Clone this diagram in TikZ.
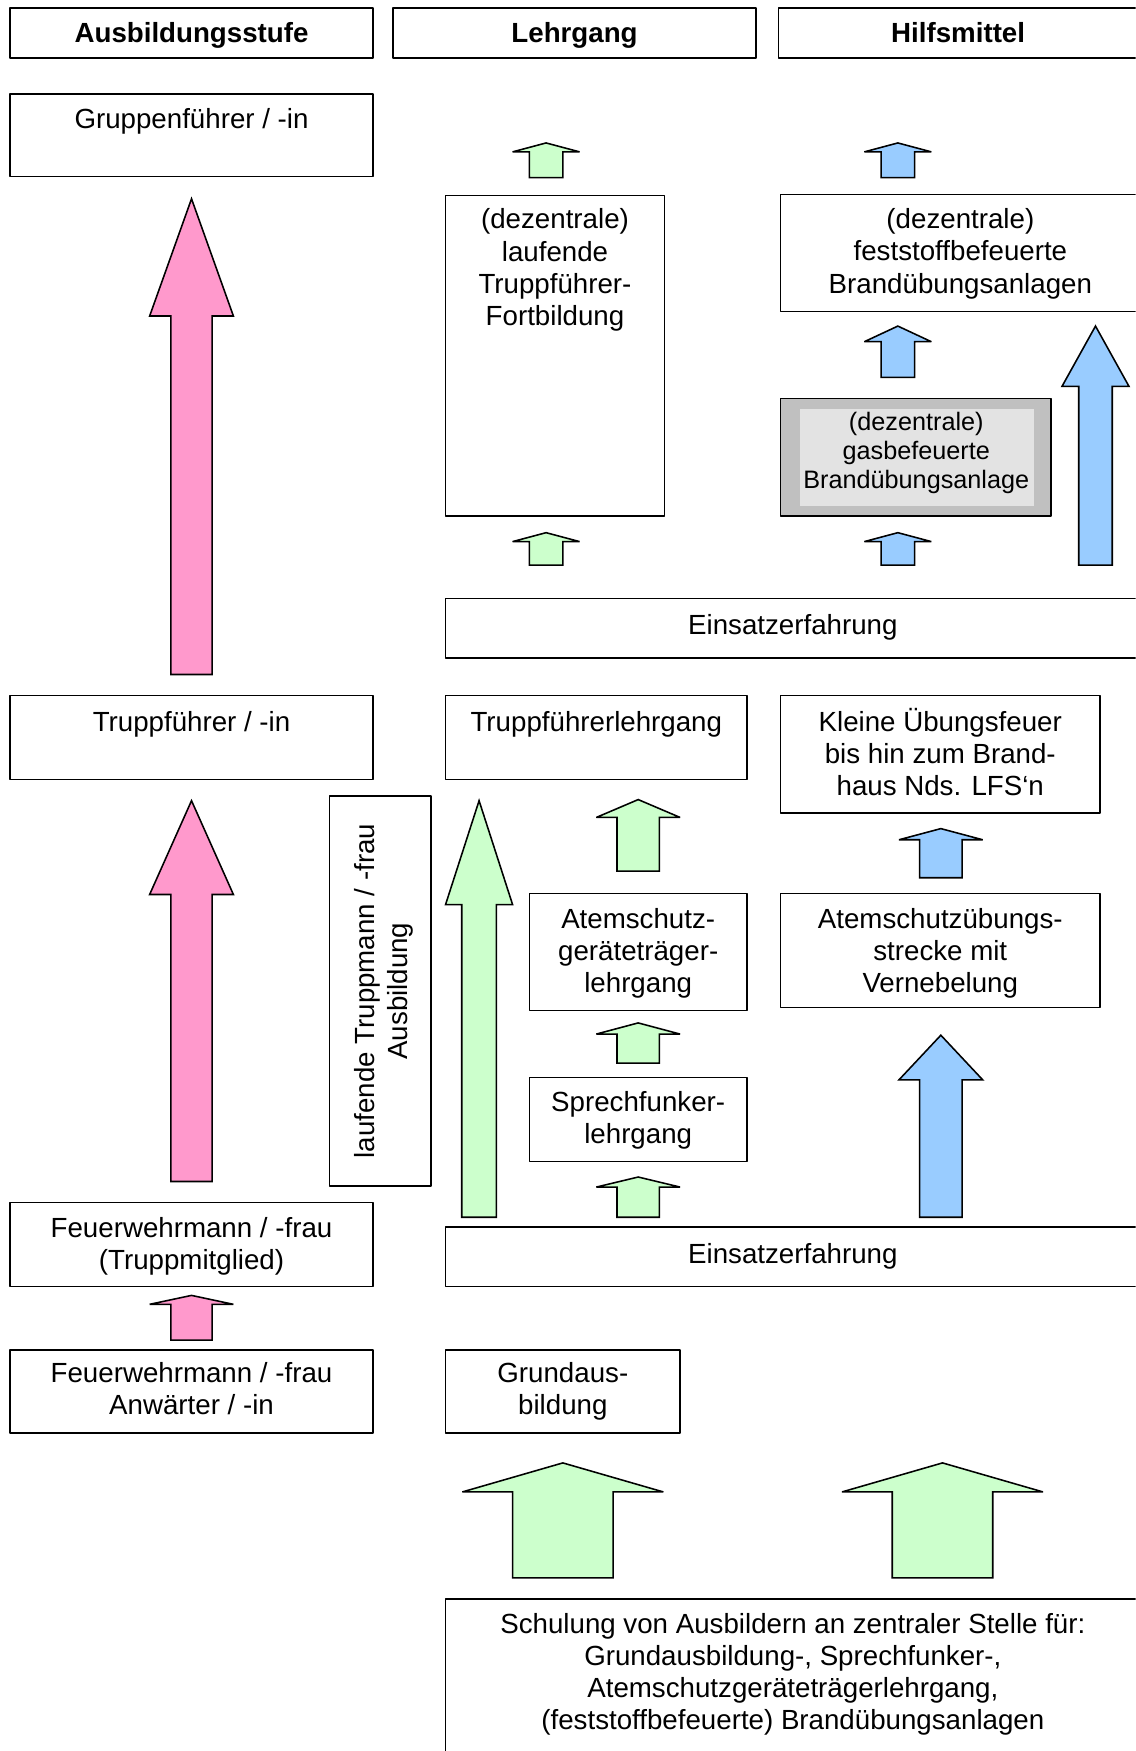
\documentclass[tikz,border=0pt]{standalone}
\usepackage{fontspec}
\setmainfont{Liberation Sans}
\usepackage{tikz}
\usetikzlibrary{positioning}
\definecolor{rosa}{RGB}{255,153,204}
\definecolor{hellgruen}{RGB}{204,255,204}
\definecolor{hellblau}{RGB}{153,204,255}
\definecolor{grau}{RGB}{192,192,192}
\definecolor{hellgrau}{RGB}{227,227,227}

% Blockpfeil nach oben: Farbe, x-Mitte, Spitze, Kopfbasis, Ende, halbe Kopfbreite, halbe Schaftbreite
\newcommand{\blockpfeil}[7]{%
  \draw[pfeil, fill=#1] (#2,#3) -- ({#2+#6},#4) -- ({#2+#7},#4) -- ({#2+#7},#5)
    -- ({#2-#7},#5) -- ({#2-#7},#4) -- ({#2-#6},#4) -- cycle;}

\tikzset{
  kasten/.style={draw, line width=0.7pt},
  pfeil/.style={draw, line width=0.7pt, line join=miter, miter limit=4},
  txt/.style={align=center, inner sep=0pt, font=\fontsize{12.4}{14.4}\selectfont,
    execute at begin node=\strut, execute at end node=\strut},
  kopf/.style={txt, font=\bfseries\fontsize{12.4}{14.4}\selectfont},
  kleintxt/.style={txt, font=\fontsize{11.3}{13}\selectfont}
}

\begin{document}
\begin{tikzpicture}[x=0.5pt, y=-0.5pt, line join=round]
    \useasboundingbox (0,0) rectangle (1017,1568);
    \clip (0,0) rectangle (1017,1568);

    % Kopfzeile
    \draw[kasten] (9,7) rectangle (334,52);
    \draw[kasten] (352,7) rectangle (677,52);
    \draw[kasten] (697,7) rectangle (1030,52);
    \node[kopf] (stufe) at (171.5,32) {Ausbildungsstufe};
    \node[kopf] (lehrgang) at (514.5,32) {Lehrgang};
    \node[kopf] (hilfsmittel) at (858,32) {Hilfsmittel};

    % Ausbildungsstufen
    \draw[kasten] (9,84) rectangle (334,158);
    \node[txt] (gruppenf) at (171.5,109.5) {Gruppenführer / -in};
    \draw[kasten] (9,623) rectangle (334,698);
    \node[txt] (truppf) at (171.5,649.5) {Truppführer / -in};
    \draw[kasten] (9,1077) rectangle (334,1152);
    \node[txt] (truppmitglied) at (171.5,1118) {Feuerwehrmann / -frau\\(Truppmitglied)};
    \draw[kasten] (9,1209) rectangle (334,1283);
    \node[txt] (anwaerter) at (171.5,1248) {Feuerwehrmann / -frau\\Anwärter / -in};
    \draw[kasten] (295,713) rectangle (386,1062);
    \node[txt, rotate=90] (truppmann) at (345.5,887.5) {laufende Truppmann / -frau\\Ausbildung};

    % Lehrgänge
    \draw[kasten] (399,175) rectangle (595,462);
    \node[txt] (tffortb) at (497,243.5) {(dezentrale)\\laufende\\Truppführer-\\Fortbildung};
    \draw[kasten] (399,536) rectangle (1030,589);
    \node[txt] (einsatz1) at (710,562.5) {Einsatzerfahrung};
    \draw[kasten] (399,623) rectangle (669,698);
    \node[txt] (tflehrg) at (534,649.5) {Truppführerlehrgang};
    \draw[kasten] (474,800) rectangle (669,905);
    \node[txt] (agtlehrg) at (571.5,855.5) {Atemschutz-\\geräteträger-\\lehrgang};
    \draw[kasten] (474,965) rectangle (669,1040);
    \node[txt] (sprechf) at (571.5,1005) {Sprechfunker-\\lehrgang};
    \draw[kasten] (399,1099) rectangle (1030,1152);
    \node[txt] (einsatz2) at (710,1125.5) {Einsatzerfahrung};
    \draw[kasten] (399,1209) rectangle (609,1283);
    \node[txt] (grundausb) at (504,1248) {Grundaus-\\bildung};
    \draw[kasten] (399,1432) rectangle (1030,1600);
    \node[txt] (schulung) at (710,1501) {Schulung von Ausbildern an zentraler Stelle für:\\Grundausbildung-, Sprechfunker-,\\Atemschutzgeräteträgerlehrgang,\\(feststoffbefeuerte) Brandübungsanlagen};

    % Hilfsmittel
    \draw[kasten] (699,174) rectangle (1030,279);
    \node[txt] (feststoff) at (860,229) {(dezentrale)\\feststoffbefeuerte\\Brandübungsanlagen};
    \draw[kasten, fill=grau] (699,357) rectangle (941,462);
    \fill[hellgrau] (716,366) rectangle (926,453);
    \node[kleintxt] (gasanlage) at (820.5,407) {(dezentrale)\\gasbefeuerte\\Brandübungsanlage};
    \draw[kasten] (699,623) rectangle (985,728);
    \node[txt] (brandhaus) at (842,677.5) {Kleine Übungsfeuer\\bis hin zum Brand-\\haus Nds. LFS‘n};
    \draw[kasten] (699,800) rectangle (985,902);
    \node[txt] (uebstrecke) at (842,855.5) {Atemschutzübungs-\\strecke mit\\Vernebelung};

    % Pfeile Ausbildungsstufe
    \blockpfeil{rosa}{171.5}{178}{283}{604}{37.5}{18.5}
    \blockpfeil{rosa}{171.5}{717}{801}{1058}{37.5}{18.5}
    \blockpfeil{rosa}{171.5}{1160}{1168}{1200}{37.5}{18.5}

    % Pfeile Lehrgang
    \blockpfeil{hellgruen}{489}{128}{136}{159}{30}{15}
    \blockpfeil{hellgruen}{489}{477}{485}{506}{30}{15}
    \blockpfeil{hellgruen}{429}{717}{810}{1090}{30}{15.5}
    \blockpfeil{hellgruen}{571.5}{716}{732}{780}{37.5}{19}
    \blockpfeil{hellgruen}{571.5}{916}{926}{952}{37.5}{19}
    \blockpfeil{hellgruen}{571.5}{1054}{1063}{1090}{37.5}{19}
    \blockpfeil{hellgruen}{504}{1310}{1336}{1413}{90}{45}
    \blockpfeil{hellgruen}{844}{1310}{1336}{1413}{90}{45}

    % Pfeile Hilfsmittel
    \blockpfeil{hellblau}{804}{128}{136}{159}{30}{15}
    \blockpfeil{hellblau}{804}{292}{306}{338}{30}{15}
    \blockpfeil{hellblau}{804}{477}{485}{506}{30}{15}
    \blockpfeil{hellblau}{981}{292}{346}{506}{30}{15}
    \blockpfeil{hellblau}{842.5}{742}{752}{786}{37.5}{19}
    \blockpfeil{hellblau}{842.5}{927}{967}{1090}{37.5}{19}
\end{tikzpicture}
\end{document}
